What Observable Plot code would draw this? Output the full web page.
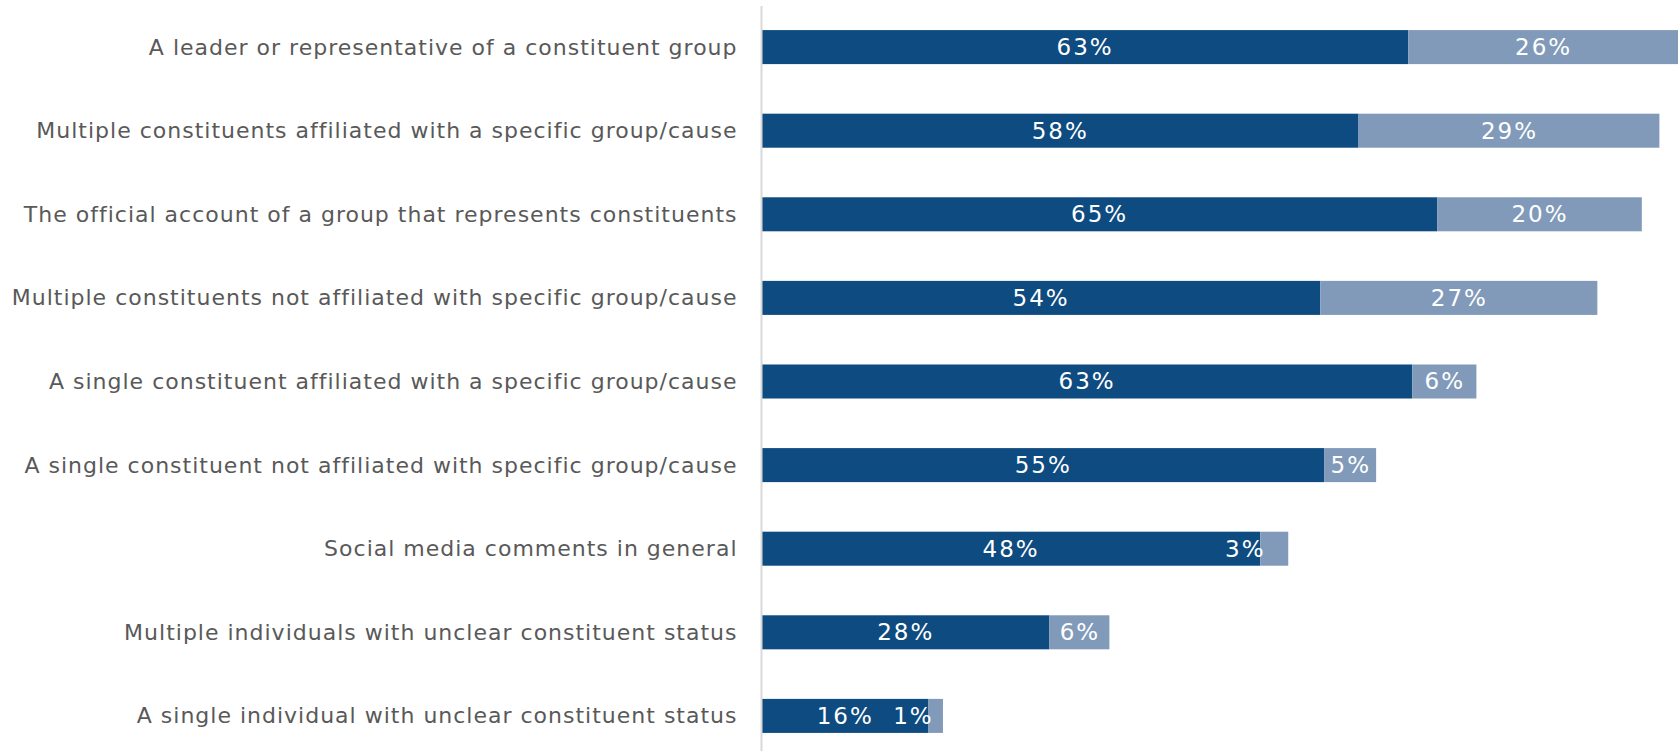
<!DOCTYPE html>
<html>
<head>
<meta charset="utf-8">
<script src="https://cdn.jsdelivr.net/npm/d3@7"></script>
<script src="https://cdn.jsdelivr.net/npm/@observablehq/plot@0.6"></script>
<style>
  html, body { margin: 0; padding: 0; background: #ffffff; }
  #chart svg { display: block; }
  #chart g[aria-label="y-axis tick label"] text { letter-spacing: 1px; }
  #chart g[aria-label="text"] text { letter-spacing: 2px; }
</style>
</head>
<body>
<div id="chart"></div>
<script>
// Categories, top to bottom
const categories = [
  "A leader or representative of a constituent group",
  "Multiple constituents affiliated with a specific group/cause",
  "The official account of a group that represents constituents",
  "Multiple constituents not affiliated with specific group/cause",
  "A single constituent affiliated with a specific group/cause",
  "A single constituent not affiliated with specific group/cause",
  "Social media comments in general",
  "Multiple individuals with unclear constituent status",
  "A single individual with unclear constituent status"
];
// First (dark) segment, percent
const darkValues  = [62.6, 57.8, 65.4, 54.1, 63.0, 54.5, 48.3, 27.9, 16.2];
// Second (light) segment, percent
const lightValues = [26.1, 29.1, 19.8, 26.8, 6.2, 5.0, 2.7, 5.8, 1.4];
const seriesNames = ["First", "Second"];
const seriesColors = ["#0e4b80", "#819ab9"];

const rows = [];
categories.forEach((c, i) => {
  rows.push({category: c, series: seriesNames[0], value: darkValues[i], start: 0, end: darkValues[i]});
  rows.push({category: c, series: seriesNames[1], value: lightValues[i], start: darkValues[i], end: darkValues[i] + lightValues[i]});
});

// label position: centered in segment; a segment too narrow for its label gets its label pulled back over the join
function labelX(d) {
  if (d.series === seriesNames[1] && d.value < 4) return d.start - 1.5;
  return (d.start + d.end) / 2;
}

const chart = Plot.plot({
  width: 1678,
  height: 751,
  marginLeft: 761,
  marginRight: 0,
  marginTop: 6,
  marginBottom: 0,
  style: {fontFamily: "'DejaVu Sans', sans-serif", background: "#ffffff"},
  x: {domain: [0, 88.7], axis: null},
  y: {domain: categories, range: [5, 758], paddingInner: 0.593, paddingOuter: 0.3, round: false, axis: null},
  color: {domain: seriesNames, range: seriesColors},
  marks: [
    Plot.barX(rows, {y: "category", x1: "start", x2: "end", fill: "series"}),
    Plot.ruleX([0], {stroke: "#d9d9d9", strokeWidth: 2}),
    Plot.axisY({tickSize: 0, tickPadding: 24, fontSize: 22, fill: "#595959", label: null}),
    Plot.text(rows, {
      y: "category",
      x: labelX,
      text: d => Math.round(d.value) + "%",
      fill: "#ffffff",
      fontSize: 23,
      textAnchor: "middle"
    })
  ]
});
document.getElementById("chart").appendChild(chart);
</script>
</body>
</html>
